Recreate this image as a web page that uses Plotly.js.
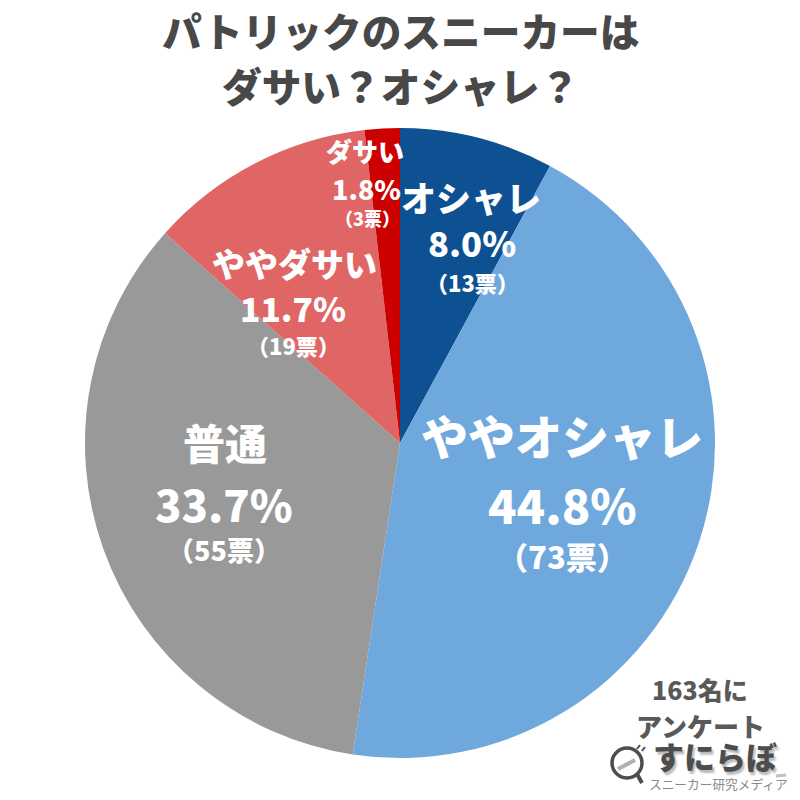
<!DOCTYPE html>
<html><head><meta charset="utf-8">
<script src="https://cdn.plot.ly/plotly-3.0.1.min.js"></script>
<style>html,body{margin:0;padding:0;background:#fff}</style></head>
<body><div id="c" style="width:800px;height:800px"></div>
<script>
const titleLines = ["パトリックのスニーカーは","ダサい？オシャレ？"];
const categories = ["オシャレ","ややオシャレ","普通","ややダサい","ダサい"];
const percents = ["8.0%","44.8%","33.7%","11.7%","1.8%"];
const voteLabels = ["（13票）","（73票）","（55票）","（19票）","（3票）"];
const sliceValues = [7.9,44.5,34.2,11.6,1.8];
const colors = ["#0d5192","#6fa8dc","#999999","#e06666","#cc0000"];
const noteLines = ["163名に","アンケート"];
const brand = "すにらぼ";
const brandSub = "スニーカー研究メディア";
const F = '"Noto Sans CJK JP"';
const W = 800;
function txt(text,x,y,size,color,weight,shadow){
  return {xref:"paper",yref:"paper",x:x/W,y:1-y/W,text:text,showarrow:false,
    font:{family:F,size:size,color:color,weight:weight||900,shadow:shadow||"none"},
    xanchor:"center",yanchor:"middle"};
}
const nameX=[471,562,225,294,365], nameY=[196,435,441,263,151], nameS=[35,47,42,33,26];
const pctX=[472,562,224,293,366], pctY=[242,503,503,307,188], pctS=[34.5,47,43.5,33.5,27];
const voteX=[472,562,224,293,367], voteY=[282,555,549,345,218], voteS=[22,31,27,22,18];
const anns=[];
titleLines.forEach((t,i)=>anns.push(txt(t,400,[30,85][i],39.7,"#484848")));
categories.forEach((c,i)=>{
  anns.push(txt(c,nameX[i],nameY[i],nameS[i],"#fff"));
  anns.push(txt(percents[i],pctX[i],pctY[i],pctS[i],"#fff"));
  anns.push(txt(voteLabels[i],voteX[i],voteY[i],voteS[i],"#fff"));
});
anns.push(txt(noteLines[0],700,689,25,"#595959"));
anns.push(txt(noteLines[1],700,725,26,"#595959"));
anns.push(txt(brand,715,755,31,"#4d4d4d",900,"2px 3px 2px #bbbbbb"));
anns.push(txt(brandSub,718,783,12.7,"#8a8a8a",400));
const logoShapes=[
  {type:"circle",xref:"paper",yref:"paper",x0:612/W,x1:642/W,y0:1-778/W,y1:1-748/W,line:{color:"#4d4d4d",width:3.5},fillcolor:"#fff"},
  {type:"line",xref:"paper",yref:"paper",x0:637/W,x1:642/W,y0:1-774/W,y1:1-783/W,line:{color:"#4d4d4d",width:4}},
  {type:"line",xref:"paper",yref:"paper",x0:618/W,x1:635/W,y0:1-769/W,y1:1-760/W,line:{color:"#b0b0b0",width:4}},
  {type:"line",xref:"paper",yref:"paper",x0:637/W,x1:640/W,y0:1-749/W,y1:1-745/W,line:{color:"#4d4d4d",width:2}},
  {type:"line",xref:"paper",yref:"paper",x0:642/W,x1:645/W,y0:1-751/W,y1:1-747/W,line:{color:"#4d4d4d",width:2}},
  {type:"line",xref:"paper",yref:"paper",x0:776/W,x1:786/W,y0:1-776/W,y1:1-775/W,line:{color:"#c0c0c0",width:3}}
];
Plotly.newPlot("c",[{type:"pie",labels:categories,values:sliceValues,sort:false,direction:"clockwise",rotation:0,
  marker:{colors:colors,line:{width:0}},textinfo:"none",hoverinfo:"none",
  domain:{x:[85/W,715/W],y:[1-758/W,1-128/W]}}],
 {width:W,height:W,margin:{l:0,r:0,t:0,b:0},showlegend:false,paper_bgcolor:"#fff",
  annotations:anns,shapes:logoShapes},{staticPlot:true});
</script></body></html>
